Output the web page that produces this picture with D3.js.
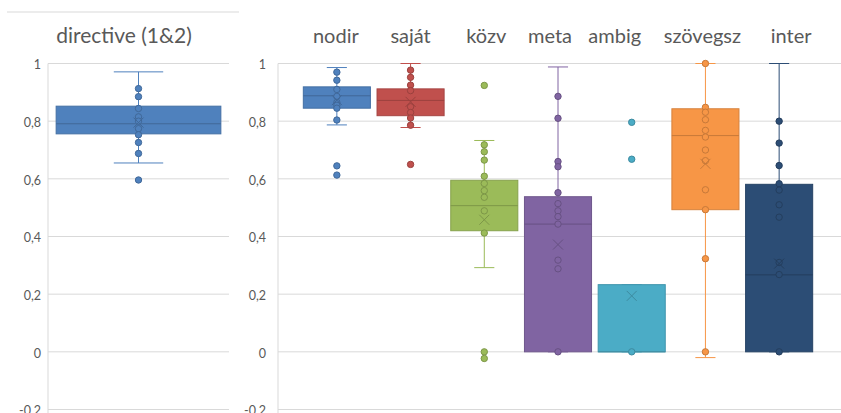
<!DOCTYPE html>
<html lang="hu">
<head>
    <meta charset="UTF-8">
    <title>Box plots</title>
    <script src="https://d3js.org/d3.v7.min.js"></script>
    <style>
        body { margin: 0; background: white; font-family: Lato, "Open Sans", sans-serif; }
        svg { display: block; }
    </style>
</head>
<body>
    <svg id="chart" width="841" height="413"></svg>
    <script>
        // y axis ticks (both panels)
        const yTicks = [-0.2, 0, 0.2, 0.4, 0.6, 0.8, 1];

        // left panel
        const leftTitle = "directive (1&2)";
        const leftStats = { q1: 0.756, median: 0.791, q3: 0.852, low: 0.655, high: 0.971, mean: 0.795 };
        const leftPoints = [0.913, 0.885, 0.844, 0.815, 0.80, 0.774, 0.753, 0.726, 0.688, 0.596];

        // right panel
        const categories = ["nodir", "saját", "közv", "meta", "ambig", "szövegsz", "inter"];
        const q1s     = [0.845, 0.819, 0.420, 0, 0, 0.493, 0];
        const medians = [0.888, 0.872, 0.507, 0.443, 0, 0.750, 0.267];
        const q3s     = [0.919, 0.912, 0.595, 0.538, 0.233, 0.843, 0.581];
        const lows    = [0.787, 0.778, 0.292, 0, 0, -0.02, 0];
        const highs   = [0.986, 1.0, 0.733, 0.988, 0.233, 1.0, 1.0];
        const means   = [0.873, 0.867, 0.458, 0.372, 0.194, 0.652, 0.306];
        const points = [
            [0.970, 0.942, 0.910, 0.886, 0.865, 0.855, 0.845, 0.804, 0.645, 0.613],
            [0.977, 0.952, 0.925, 0.906, 0.850, 0.830, 0.811, 0.786, 0.650],
            [0.924, 0.718, 0.694, 0.665, 0.609, 0.584, 0.559, 0.536, 0.489, 0.412, 0, -0.023],
            [0.886, 0.810, 0.660, 0.642, 0.552, 0.514, 0.489, 0.469, 0.443, 0.318, 0.288, 0],
            [0.796, 0.668, 0],
            [1.0, 0.848, 0.831, 0.805, 0.768, 0.745, 0.700, 0.663, 0.562, 0.493, 0.323, 0],
            [0.800, 0.724, 0.646, 0.583, 0.561, 0.510, 0.467, 0.310, 0.268, 0]
        ];
        const colors = ["#4f81bd", "#c0504d", "#9bbb59", "#8064a2", "#4bacc6", "#f79646", "#2c4d75"];

        const svg = d3.select("#chart");
        const textColor = "#595959";
        const gridColor = "#d9d9d9";
        const fmt = d3.formatLocale({ decimal: ",", thousands: " ", grouping: [3], currency: ["", ""], minus: "-" }).format(".1~f");

        const y = d3.scaleLinear().domain([-0.2, 1]).range([409.5, 63.5]);

        // top border line over the left chart
        svg.append("line")
            .attr("x1", 7).attr("x2", 239).attr("y1", 12).attr("y2", 12)
            .attr("stroke", gridColor);

        function drawPanel(x0, x1, labelGap, x, rows) {
            svg.selectAll(null)
                .data(yTicks)
                .enter()
                .append("line")
                .attr("x1", x0).attr("x2", x1)
                .attr("y1", d => y(d)).attr("y2", d => y(d))
                .attr("stroke", gridColor);

            svg.append("line")
                .attr("x1", x0).attr("x2", x0)
                .attr("y1", y(1)).attr("y2", 413)
                .attr("stroke", gridColor);

            svg.selectAll(null)
                .data(yTicks)
                .enter()
                .append("text")
                .attr("x", x0 - labelGap)
                .attr("y", d => y(d) + 1.5)
                .attr("dy", "0.35em")
                .attr("text-anchor", "end")
                .attr("fill", textColor)
                .style("font-size", "12.5px")
                .text(d => fmt(d));

            const bw = x.bandwidth();
            const g = svg.selectAll(null)
                .data(rows)
                .enter()
                .append("g")
                .attr("transform", d => `translate(${x(d.name) + bw / 2},0)`);

            // whiskers
            g.append("line")
                .attr("y1", d => y(d.q3)).attr("y2", d => y(d.high))
                .attr("stroke", d => d.color);
            g.append("line")
                .attr("y1", d => y(d.q1)).attr("y2", d => y(d.low))
                .attr("stroke", d => d.color);
            g.append("line")
                .attr("x1", -bw * 0.15).attr("x2", bw * 0.15)
                .attr("y1", d => y(d.high)).attr("y2", d => y(d.high))
                .attr("stroke", d => d.color);
            g.append("line")
                .attr("x1", -bw * 0.15).attr("x2", bw * 0.15)
                .attr("y1", d => y(d.low)).attr("y2", d => y(d.low))
                .attr("stroke", d => d.color);

            // box
            g.append("rect")
                .attr("x", -bw / 2)
                .attr("width", bw)
                .attr("y", d => y(d.q3))
                .attr("height", d => y(d.q1) - y(d.q3))
                .attr("fill", d => d.color)
                .attr("stroke", d => d3.color(d.color).darker(0.4));
            g.append("line")
                .attr("x1", -bw / 2).attr("x2", bw / 2)
                .attr("y1", d => y(d.median)).attr("y2", d => y(d.median))
                .attr("stroke", d => d3.color(d.color).darker(0.6));

            // points
            g.selectAll("circle")
                .data(d => d.points.map(v => ({ v: v, color: d.color })))
                .enter()
                .append("circle")
                .attr("r", 3.2)
                .attr("cy", d => y(d.v))
                .attr("fill", d => d.color)
                .attr("stroke", d => d3.color(d.color).darker(0.6))
                .attr("stroke-width", 1);

            // mean marker
            g.append("path")
                .attr("d", d => {
                    const m = y(d.mean);
                    return `M-5,${m - 5}L5,${m + 5}M-5,${m + 5}L5,${m - 5}`;
                })
                .attr("stroke", d => d3.color(d.color).darker(0.6))
                .attr("fill", "none");
        }

        // left panel
        const xLeft = d3.scaleBand().domain([leftTitle]).range([48, 229]).paddingInner(0.09).paddingOuter(0.045);
        drawPanel(48, 229, 7, xLeft, [Object.assign({ name: leftTitle, color: colors[0], points: leftPoints }, leftStats)]);
        svg.append("text")
            .attr("x", 124).attr("y", 43)
            .attr("text-anchor", "middle")
            .attr("fill", textColor)
            .style("font-size", "21px")
            .text(leftTitle);

        // right panel
        const xRight = d3.scaleBand().domain(categories).range([300, 816]).paddingInner(0.09).paddingOuter(0.045);
        const rows = categories.map((c, i) => ({
            name: c, color: colors[i], q1: q1s[i], median: medians[i], q3: q3s[i],
            low: lows[i], high: highs[i], mean: means[i], points: points[i]
        }));
        drawPanel(278, 841, 12, xRight, rows);

        // series names along the top, slightly spread like the original
        const labelDx = [-1, 0, 2, -8, -17, -3, 12];
        svg.selectAll(null)
            .data(categories)
            .enter()
            .append("text")
            .attr("x", (d, i) => xRight(d) + xRight.bandwidth() / 2 + labelDx[i])
            .attr("y", 43)
            .attr("text-anchor", "middle")
            .attr("fill", textColor)
            .style("font-size", "20px")
            .text(d => d);
    </script>
</body>
</html>
